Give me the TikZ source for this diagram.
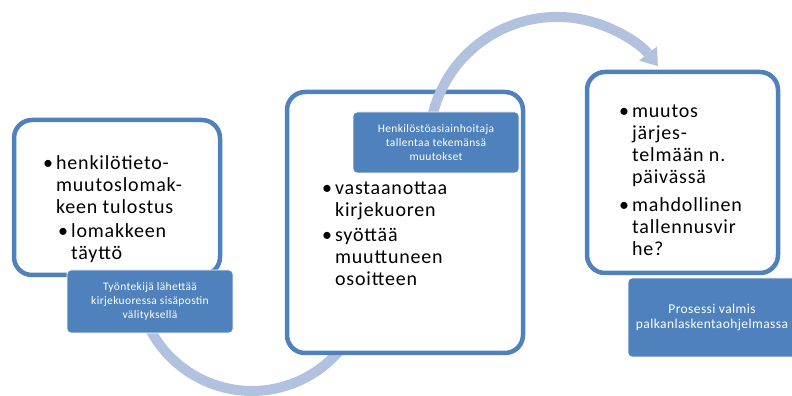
\documentclass[tikz,border=0pt]{standalone}
\usepackage{fontspec}
\setmainfont{Carlito}
\newfontfamily\itemfont[LetterSpace=4]{Carlito}
\newfontfamily\tagfont[LetterSpace=3]{Carlito}
\usepackage{xcolor}
\usepackage{tikz}
\usetikzlibrary{arrows.meta}

\definecolor{boxblue}{RGB}{79,129,189}
\definecolor{flowblue}{RGB}{177,193,222}

\newcommand{\bitem}[1]{\begin{tabular}[t]{@{}l@{\hspace{3pt}}l@{}}\textbullet & #1\end{tabular}}

\tikzset{
  stagebox/.style={draw=boxblue, line width=4.5pt, fill=white, rounded corners=18pt, inner sep=0pt},
  tagbox/.style={draw=white, line width=0.8pt, fill=boxblue, rounded corners=4pt, text=white, align=center, inner sep=0pt, font=\tagfont\fontsize{11.5}{14}\selectfont},
  itemtext/.style={anchor=base west, inner sep=0pt, font=\itemfont\fontsize{20}{22}\selectfont},
  flow/.style={draw=flowblue, line width=10pt}
}

\begin{document}
\begin{tikzpicture}[x=1pt, y=1pt]
\useasboundingbox (0,0) rectangle (792,396);
\clip (0,0) rectangle (792,396);

\coordinate (downS) at (143.9,80.7);
\coordinate (upS) at (432.8,282);

\draw[flow] (downS) arc[start angle=200, end angle=340, radius=115pt];

\node[stagebox, minimum width=206pt, minimum height=155pt] (stage1) at (117,198.5) {};
\node[stagebox, minimum width=236pt, minimum height=261pt] (stage2) at (405,173.5) {};
\node[stagebox, minimum width=191pt, minimum height=201pt] (stage3) at (682.5,223.5) {};

\draw[flow, -{Triangle[width=23pt, length=16pt, line width=0pt]}] (upS) arc[start angle=166, end angle=38, radius=128pt];

\node[tagbox, minimum width=166pt, minimum height=63pt] (tag1) at (150,94.5) {Työntekijä lähettää\\kirjekuoressa sisäpostin\\välityksellä};
\node[tagbox, minimum width=166pt, minimum height=61pt] (tag2) at (436,253.5) {Henkilöstöasiainhoitaja\\tallentaa tekemänsä\\muutokset};
\node[tagbox, minimum width=168pt, minimum height=79pt, font=\tagfont\fontsize{13.5}{15}\selectfont] (tag3) at (712,78.5) {Prosessi valmis\\palkanlaskentaohjelmassa};

\node[itemtext] (item1a) at (43,226) {\bitem{henkilötieto-\\&muutoslomak-\\&keen tulostus}};
\node[itemtext] (item1b) at (58,158) {\bitem{lomakkeen\\&täyttö}};

\node[itemtext] (item2a) at (322,201) {\bitem{vastaanottaa\\&kirjekuoren}};
\node[itemtext] (item2b) at (322,154) {\bitem{syöttää\\&muuttuneen\\&osoitteen}};

\node[itemtext] (item3a) at (619,278) {\bitem{muutos\\&järjes-\\&telmään n.\\&päivässä}};
\node[itemtext] (item3b) at (619,184) {\bitem{mahdollinen\\&tallennusvir\\&he?}};
\end{tikzpicture}
\end{document}
